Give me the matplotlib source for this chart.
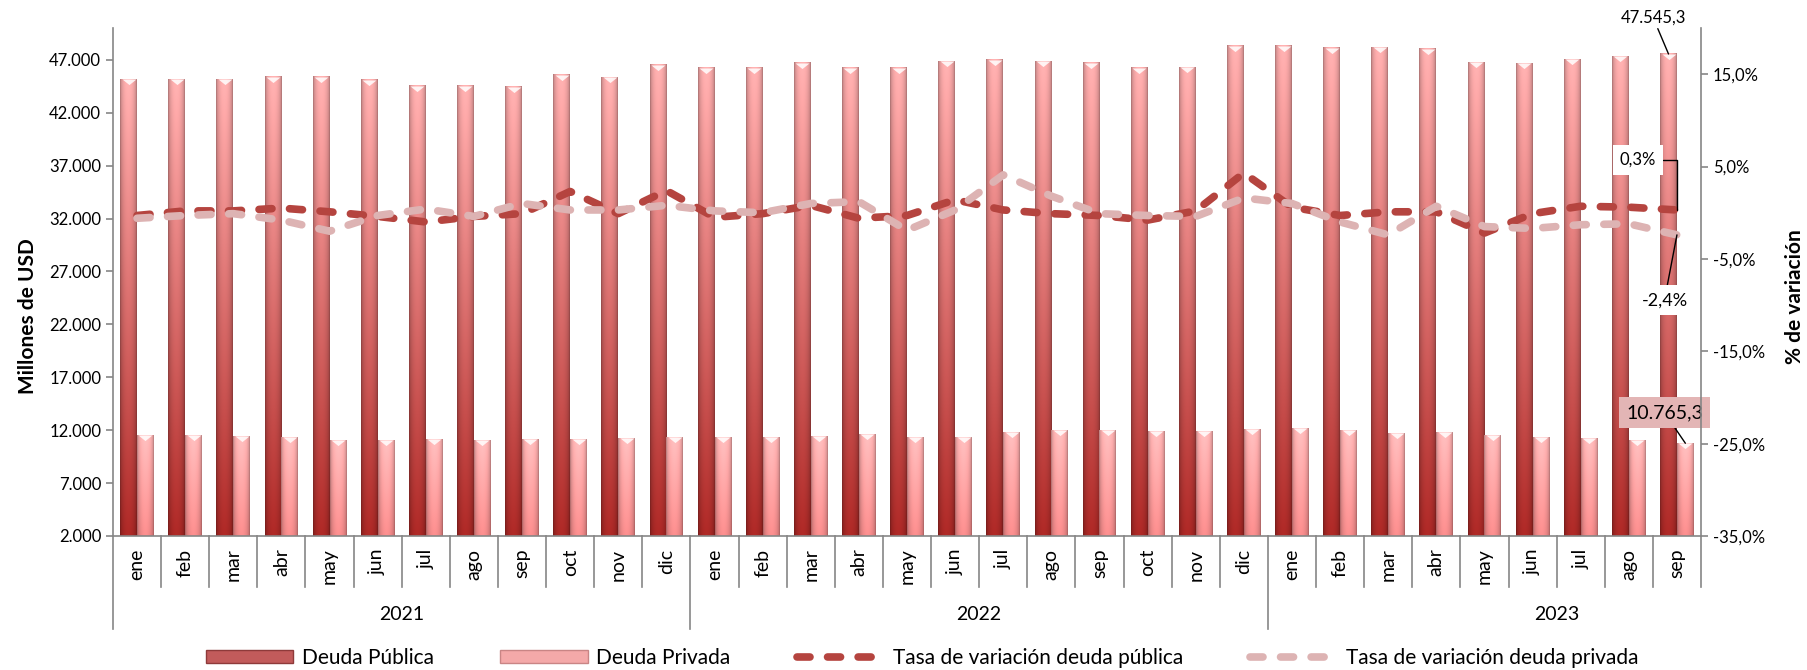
import numpy as np
import matplotlib
matplotlib.use("Agg")
import matplotlib.pyplot as plt
from matplotlib.patches import Patch
from matplotlib.lines import Line2D

plt.rcParams['font.family'] = ['Lato', 'DejaVu Sans']

# --- data ---
months = (['ene', 'feb', 'mar', 'abr', 'may', 'jun', 'jul', 'ago', 'sep', 'oct', 'nov', 'dic'] * 2
          + ['ene', 'feb', 'mar', 'abr', 'may', 'jun', 'jul', 'ago', 'sep'])
years = ['2021', '2022', '2023']
year_start = [0, 12, 24]

deuda_publica = [45180, 45180, 45180, 45380, 45380, 45090, 44530, 44530, 44430, 45560, 45350, 46550,
                 46230, 46230, 46700, 46230, 46230, 46860, 46980, 46860, 46700, 46230, 46290, 48340,
                 48340, 48120, 48180, 48020, 46760, 46670, 47050, 47330, 47545.3]
deuda_privada = [11515, 11515, 11420, 11325, 11040, 11040, 11135, 11040, 11135, 11135, 11230, 11325,
                 11325, 11325, 11420, 11610, 11325, 11325, 11800, 11990, 11990, 11895, 11895, 12085,
                 12180, 11990, 11705, 11800, 11515, 11325, 11230, 11040, 10765.3]
tasa_publica = [-0.3, 0.2, 0.2, 0.5, 0.1, -0.4, -1.0, -0.4, -0.1, 2.3, -0.1, 2.4,
                -0.5, -0.1, 0.8, -0.6, -0.3, 1.4, 0.3, -0.1, -0.3, -0.8, 0.2, 4.3,
                0.6, -0.3, 0.1, 0.1, -2.2, -0.1, 0.7, 0.6, 0.3]
tasa_privada = [-0.6, -0.3, -0.1, -0.8, -2.0, -0.3, 0.4, -0.4, 1.0, 0.3, 0.3, 0.8,
                0.2, 0.0, 1.0, 1.2, -1.9, 0.3, 4.1, 1.8, -0.1, -0.3, -0.4, 1.6,
                1.0, -1.0, -2.4, 0.7, -1.5, -1.7, -1.3, -1.2, -2.4]

GRAY = '#868686'
DARK_LINE = '#B5443F'
LIGHT_LINE = '#DDB3B3'
Y_MIN = 2000


def shaded_bar(ax, x0, width, top, c_bottom, c_top):
    ny, nx = 80, 24
    t = np.linspace(0, 1, ny)[:, None, None]
    col = np.array(c_bottom) + (np.array(c_top) - np.array(c_bottom)) * t
    u = np.linspace(0, 1, nx)[None, :, None]
    shade = 0.72 + 0.36 * np.sin(np.pi * u) ** 0.5
    img = np.clip(col * shade, 0, 1)
    ax.imshow(img, extent=(x0, x0 + width, Y_MIN, top), origin='lower',
              aspect='auto', interpolation='bilinear', zorder=2)


def fmt_miles(v, dec=0):
    s = f"{v:,.{dec}f}"
    return s.replace(',', 'X').replace('.', ',').replace('X', '.')


def fmt_pct(v):
    return f"{v:.1f}%".replace('.', ',')


fig = plt.figure(figsize=(18.08, 6.70), dpi=100)
ax = fig.add_axes([113 / 1808, 1 - 536 / 670, (1701 - 113) / 1808, (536 - 28) / 670])
ax2 = ax.twinx()

x = np.arange(len(months))
bw = 0.35
for i in x:
    shaded_bar(ax, i - bw, bw, deuda_publica[i], (0.64, 0.15, 0.14), (0.95, 0.65, 0.65))
    shaded_bar(ax, i, bw, deuda_privada[i], (0.92, 0.52, 0.52), (1.0, 0.70, 0.70))

# white cone highlight on bar tops
cone = [(-1, 0), (1, 0), (0, -0.8), (-1, 0)]
ax.plot(x - bw / 2, deuda_publica, ls='none', marker=cone, ms=10, mfc='white', mec='none',
        alpha=0.85, zorder=3)
ax.plot(x + bw / 2, deuda_privada, ls='none', marker=cone, ms=10, mfc='white', mec='none',
        alpha=0.85, zorder=3)

ax.set_xlim(-0.5, len(months) - 0.5)
ax.set_ylim(Y_MIN, 50000)
ax2.set_ylim(-35, 20)

yt = np.arange(2000, 47001, 5000)
ax.set_yticks(yt)
ax.set_yticklabels([fmt_miles(v) for v in yt], fontsize=12)
rt = np.arange(-35, 16, 10)
ax2.set_yticks(rt)
ax2.set_yticklabels([fmt_pct(v) for v in rt], fontsize=12)

ax.set_xticks(x)
ax.set_xticklabels(months, rotation=90, fontsize=14)
ax.tick_params(axis='x', length=0, pad=9)
ax.tick_params(axis='y', colors=GRAY, labelcolor='black', length=5, width=1.2)
ax2.tick_params(axis='y', colors=GRAY, labelcolor='black', length=5, width=1.2)

for a in (ax, ax2):
    for s in a.spines.values():
        s.set_color(GRAY)
        s.set_linewidth(1.2)
    a.spines['top'].set_visible(False)
ax.spines['right'].set_visible(False)
ax2.spines['left'].set_visible(False)
ax2.spines['bottom'].set_visible(False)

# category separators below the axis
tr = ax.get_xaxis_transform()
for k in range(len(months) + 1):
    depth = -0.183 if (k in year_start) else -0.1004
    ax.plot([k - 0.5, k - 0.5], [0, depth], transform=tr, color=GRAY, lw=1.2, clip_on=False)
for yr, st in zip(years, year_start):
    ax.text(st + 5.5, -0.155, yr, transform=tr, ha='center', va='center', fontsize=14)

# variation lines
line_kw = dict(lw=5.5, dashes=(1.7, 2.3), dash_capstyle='round', solid_capstyle='round', zorder=4)
ax2.plot(x, tasa_publica, color=DARK_LINE, **line_kw)
ax2.plot(x, tasa_privada, color=LIGHT_LINE, **line_kw)

# axis titles
fig.text(28 / 1808, 1 - 316 / 670, 'Millones de USD', rotation=90, ha='center', va='center',
         fontsize=15, fontweight='bold')
fig.text(1795 / 1808, 1 - 297 / 670, '% de variación', rotation=90, ha='center', va='center',
         fontsize=15, fontweight='bold')

# data labels on the last month
last = len(months) - 1
arrow = dict(arrowstyle='-', color='black', lw=1, shrinkA=0, shrinkB=0)
ax.annotate(fmt_miles(deuda_publica[last], 1),
            xy=(last - bw / 2, deuda_publica[last]), xytext=(-11, 26), textcoords='offset points',
            ha='center', va='center', fontsize=12, arrowprops=arrow, zorder=6)
ax.annotate(fmt_miles(deuda_privada[last], 1),
            xy=(last + bw / 2, deuda_privada[last]), xytext=(-15, 22), textcoords='offset points',
            ha='center', va='center', fontsize=14, arrowprops=arrow, zorder=6,
            bbox=dict(boxstyle='square,pad=0.35', fc='#E3B5B5', ec='none'))
ax2.annotate(fmt_pct(tasa_publica[last]), xy=(last, tasa_publica[last]), xytext=(-28, 36),
             textcoords='offset points', ha='center', va='center', fontsize=12, zorder=6,
             bbox=dict(boxstyle='square,pad=0.4', fc='white', ec='none'),
             arrowprops=dict(arrowstyle='-', color='black', lw=1, shrinkA=0, shrinkB=0,
                             connectionstyle='angle,angleA=0,angleB=90,rad=0'))
ax2.annotate(fmt_pct(tasa_privada[last]), xy=(last, tasa_privada[last]), xytext=(-9, -47),
             textcoords='offset points', ha='center', va='center', fontsize=13, zorder=6,
             bbox=dict(boxstyle='square,pad=0.4', fc='white', ec='none'), arrowprops=arrow)

# legend
handles = [Patch(facecolor='#C25B5B', edgecolor='#8E3A3A'),
           Patch(facecolor='#F4A9A9', edgecolor='#C98585'),
           Line2D([], [], color=DARK_LINE, **line_kw),
           Line2D([], [], color=LIGHT_LINE, **line_kw)]
labels = ['Deuda Pública', 'Deuda Privada', 'Tasa de variación deuda pública',
          'Tasa de variación deuda privada']
fig.legend(handles, labels, loc='center', bbox_to_anchor=(0.51, 1 - 658 / 670), ncol=4,
           frameon=False, fontsize=15, handlelength=4.2, handleheight=0.6, columnspacing=3.2,
           handletextpad=0.4)

fig.savefig('out.png', dpi=100)
